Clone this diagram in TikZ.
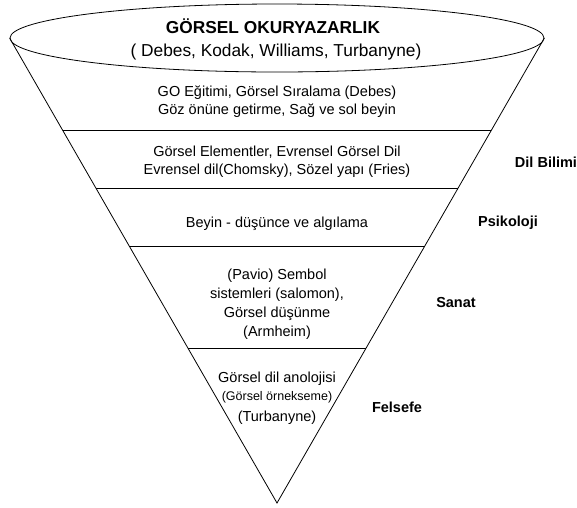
\documentclass[tikz,border=0pt]{standalone}
\usepackage{fontspec}
\setmainfont{Liberation Sans}
\usetikzlibrary{shapes.geometric,calc}
\begin{document}
\begin{tikzpicture}[x=1pt,y=-1pt,line width=0.8pt,
        katman/.style={align=center,font=\fontsize{14.5}{18}\selectfont},
        alan/.style={font=\bfseries\fontsize{14.5}{18}\selectfont}]
        \useasboundingbox (0,0) rectangle (577,507);
        \node[ellipse,draw,minimum width=534pt,minimum height=68pt,inner sep=0pt] (baslik) at (277,38) {};
        \node[font=\bfseries\fontsize{17.3}{26}\selectfont] (baslik1) at (273,26) {GÖRSEL OKURYAZARLIK};
        \node[font=\fontsize{17.3}{26}\selectfont] (baslik2) at (276,52) {( Debes, Kodak, Williams, Turbanyne)};

        \coordinate (uc) at (277,503);
        \draw (baslik.west) -- (uc) -- (baslik.east);
        \foreach \k in {0.198,0.323,0.449,0.667}
            \draw[line width=1.1pt] ($(baslik.west)!\k!(uc)$) -- ($(baslik.east)!\k!(uc)$);

        \node[katman] (egitim) at (277,102) {GO Eğitimi, Görsel Sıralama (Debes)\\Göz önüne getirme, Sağ ve sol beyin};
        \node[katman] (eleman) at (277,162) {Görsel Elementler, Evrensel Görsel Dil\\Evrensel dil(Chomsky), Sözel yapı (Fries)};
        \node[katman] (beyin) at (277,224) {Beyin - düşünce ve algılama};
        \node[katman,font=\fontsize{14.5}{19}\selectfont] (sembol) at (277,304)
            {(Pavio) Sembol\\sistemleri (salomon),\\Görsel düşünme\\(Armheim)};
        \node[katman] (anoloji) at (277,398)
            {Görsel dil anolojisi\\{\fontsize{12.5}{18}\selectfont (Görsel örnekseme)}\\[3pt](Turbanyne)};

        \node[alan] (dil) at (546,162) {Dil Bilimi};
        \node[alan] (psiko) at (508,223) {Psikoloji};
        \node[alan] (sanat) at (456,302) {Sanat};
        \node[alan] (felsefe) at (397,407) {Felsefe};
\end{tikzpicture}
\end{document}
